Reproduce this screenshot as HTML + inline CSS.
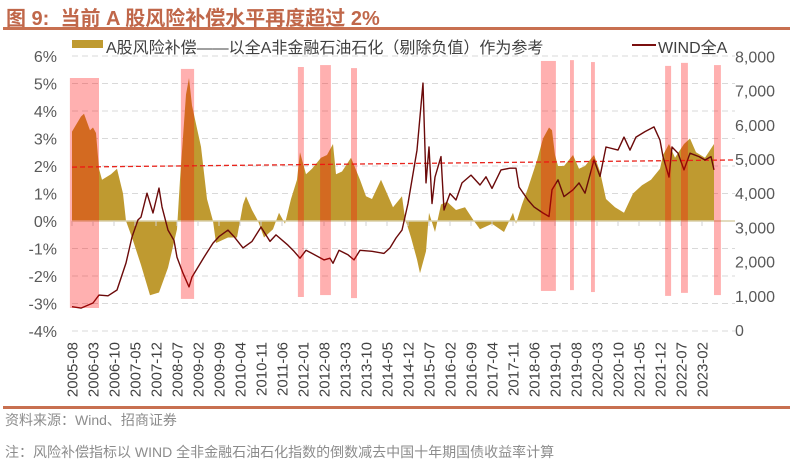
<!DOCTYPE html>
<html><head><meta charset="utf-8">
<style>
body{margin:0;background:#fff;}
#wrap{position:relative;width:793px;height:470px;overflow:hidden;font-family:"Liberation Sans","Noto Sans CJK SC",sans-serif;}
.t{position:absolute;white-space:nowrap;}
</style></head>
<body>
<div id="wrap">
<div class="t" style="left:6px;top:2px;font-size:20px;font-weight:bold;color:#C0674A;">图 9:&nbsp; 当前 A 股风险补偿水平再度超过 2%</div>
<div style="position:absolute;left:3px;top:27px;width:787px;height:3px;background:#C87050;"></div>
<div style="position:absolute;left:72px;top:40px;width:31px;height:8px;background:#BF9A30;"></div>
<div class="t" style="left:106px;top:34px;font-size:16px;color:#404040;">A股风险补偿——以全A非金融石油石化（剔除负值）作为参考</div>
<div style="position:absolute;left:632px;top:44px;width:24px;height:2px;background:#7A0F0F;"></div>
<div class="t" style="left:658px;top:34px;font-size:16px;color:#404040;">WIND全A</div>
<svg id="chart" width="793" height="470" style="position:absolute;left:0;top:0;"></svg>
<div style="position:absolute;left:3px;top:406px;width:787px;height:3px;background:#C87050;"></div>
<div class="t" style="left:5px;top:410px;font-size:14px;color:#8C8C8C;">资料来源：Wind、招商证券</div>
<div class="t" style="left:5px;top:442px;font-size:14px;color:#8C8C8C;">注：风险补偿指标以 WIND 全非金融石油石化指数的倒数减去中国十年期国债收益率计算</div>
</div>
<script>
const premMonths=[0,3,4,6,7,8,9,10,13,15,17,18,20,23,26,29,32,35,36,38,39,40,43,45,47,48,52,55,57,58,60,62,64,67,69,71,73,75,76,78,80,83,85,87,88,90,93,96,98,100,103,105,107,110,111,113,115,116,118,119,121,123,125,128,131,134,136,140,144,147,148,150,152,155,157,159,160,161,162,164,167,169,171,174,176,178,181,184,187,190,193,196,197,199,201,204,206,208,211,214];
const premVals=[3.25,3.8,3.9,3.3,3.4,3.2,1.9,1.5,1.7,1.9,1.0,0,-0.6,-1.6,-2.7,-2.6,-1.7,-0.3,1.5,4.6,5.2,4.2,2.7,0.8,0,-0.8,-0.6,-0.6,0.6,0.9,0.4,0,-0.6,-0.3,0.3,-0.1,0.8,1.5,2.5,1.7,1.9,2.3,2.4,2.8,1.7,1.8,2.3,1.5,0.9,0.8,1.5,1.0,0.5,0.9,0.1,-0.6,-1.4,-1.9,-1.1,0.3,-0.4,0.6,0.7,0.4,0.5,0,-0.3,-0.1,-0.4,0.3,-0.1,0.6,1.2,2.2,3.0,3.4,3.3,2.4,2.0,2.0,2.4,1.9,2.0,2.4,1.8,0.8,0.5,0.3,1.0,1.3,1.5,1.9,2.4,2.8,2.3,2.8,3.0,2.5,2.3,2.8];
const windMonths=[0,3,7,9,12,15,18,20,22,23,25,27,29,30,32,34,35,37,39,40,44,47,49,52,54,57,60,63,66,68,72,74,76,78,80,84,86,87,89,92,94,96,100,104,106,108,110,112,115,117,118,119,120,121,123,124,126,128,130,133,136,138,140,143,146,148,149,152,154,157,159,160,162,164,167,169,171,174,176,178,182,184,186,188,191,194,196,197,199,200,202,204,206,209,211,213,214];
const windVals=[680,640,790,1020,1000,1170,1960,2720,3220,3300,4000,3420,4150,3600,2920,2620,2130,1660,1260,1550,2130,2540,2730,2920,2730,2400,2590,3010,2590,2780,2480,2300,2100,2330,2240,2050,2100,1950,2330,2200,2050,2330,2300,2240,2400,2690,2920,3700,5260,7220,4300,5350,3700,4470,5070,3510,3990,3800,4300,4530,4240,4480,4140,4680,4730,4730,4180,3800,3600,3420,3320,4100,4390,3900,4100,4300,4000,4970,4490,5350,5260,5640,5260,5640,5800,5940,5550,5070,4470,5350,5170,4680,5170,5070,4970,5070,4680];
const bandStart=[-0.7,36.3,75.3,82.7,93,156.3,166,173,197.7,203,214];
const bandEnd=[9,40.7,77.3,86.3,95,161.3,167.3,174.3,199.7,205.3,216.3];
const bandTop=[5.2,5.53,5.6,5.67,5.56,5.82,5.85,5.78,5.64,5.75,5.67];
const leftTicks=[6,5,4,3,2,1,0,-1,-2,-3,-4];
const rightTicks=[8000,7000,6000,5000,4000,3000,2000,1000,0];
const refLineStart=1.96, refLineEnd=2.22;
const startYear=2005,startMonth=8;

const svg=document.getElementById('chart');
const NS='http://www.w3.org/2000/svg';
const X0=72,PXM=3.0,XR=735;
const x=m=>X0+PXM*m;
const yL=v=>221-27.5*v;
const yR=v=>330-v*0.0342;
function mk(tag,attrs){const e=document.createElementNS(NS,tag);for(const k in attrs)e.setAttribute(k,attrs[k]);svg.appendChild(e);return e;}

leftTicks.forEach(v=>{
  if(v!==0){const g=mk('line',{x1:X0,x2:XR,y1:yL(v),y2:yL(v),stroke:'#D9D9D9','stroke-width':1,'stroke-dasharray':'6,4'});
  
  }
  const t=mk('text',{x:57,y:yL(v)+6,'text-anchor':'end','font-size':16,fill:'#595959','font-family':'Liberation Sans, sans-serif'});
  t.textContent=v+'%';
  
  
});
rightTicks.forEach(v=>{
  const t=mk('text',{x:735,y:yR(v)+6,'text-anchor':'start','font-size':16,fill:'#595959','font-family':'Liberation Sans, sans-serif'});
  t.textContent=v.toLocaleString('en-US');
  
  
});
let d='M'+x(premMonths[0])+','+yL(0);
premMonths.forEach((m,i)=>{d+=' L'+x(m).toFixed(1)+','+yL(premVals[i]).toFixed(1);});
d+=' L'+x(premMonths[premMonths.length-1])+','+yL(0)+' Z';
const area=mk('path',{d:d,fill:'#BF9A30'});


const ax=mk('line',{x1:X0,x2:XR,y1:yL(0),y2:yL(0),stroke:'#D8CFA8','stroke-width':1.5});


for(let m=0;m<=210;m+=7){
  const yr=startYear+Math.floor((startMonth-1+m)/12), mo=(startMonth-1+m)%12+1;
  const lab=yr+'-'+String(mo).padStart(2,'0');
  const tk=mk('line',{x1:x(m),x2:x(m),y1:yL(0),y2:yL(0)+5,stroke:'#D0D0D0'});
  
  
  const t=mk('text',{x:0,y:0,'text-anchor':'end','font-size':15,fill:'#404040','font-family':'Liberation Sans, sans-serif',transform:'translate('+(x(m)+5.5)+',342) rotate(-90)'});
  t.textContent=lab;
  
  
}
const rl=mk('line',{x1:X0,x2:XR,y1:yL(refLineStart),y2:yL(refLineEnd),stroke:'#E8241C','stroke-width':1.3,'stroke-dasharray':'5,3'});


const pts=windMonths.map((m,i)=>x(m).toFixed(1)+','+yR(windVals[i]).toFixed(1)).join(' ');
const wl=mk('polyline',{points:pts,fill:'none',stroke:'#6B0A0A','stroke-width':1.4,'stroke-linejoin':'round'});


bandStart.forEach((s,i)=>{
  const top=yL(bandTop[i]);
  const r=mk('rect',{x:x(s),y:top,width:x(bandEnd[i])-x(s),height:230,fill:'rgba(255,0,0,0.31)'});
  
  
});
</script>
</body></html>
